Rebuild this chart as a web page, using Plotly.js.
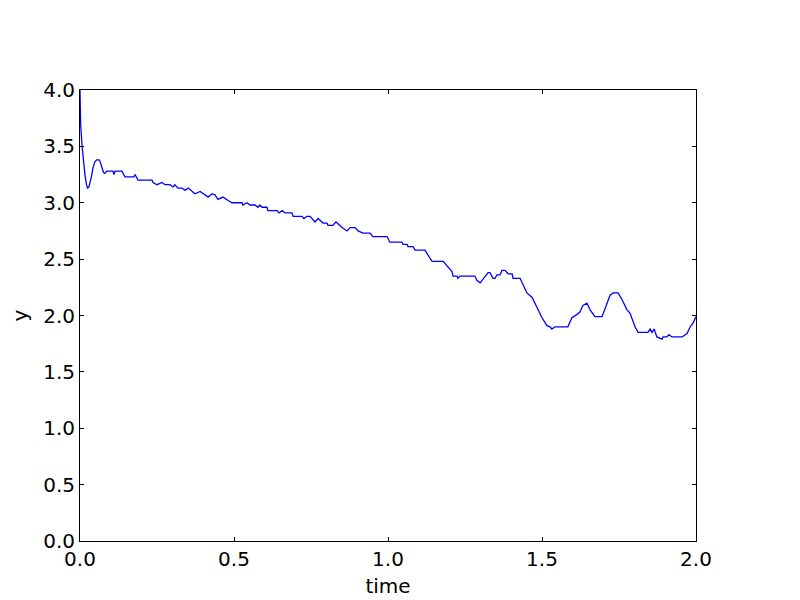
<!DOCTYPE html>
<html>
<head>
<meta charset="utf-8">
<script src="https://cdn.plot.ly/plotly-3.0.1.min.js"></script>
<style>html,body{margin:0;padding:0;background:#fff;}#chart{width:800px;height:600px;}</style>
</head>
<body>
<div id="chart"></div>
<script>
const time = [0, 0.002, 0.0065, 0.011, 0.016, 0.021, 0.025, 0.029, 0.032, 0.037, 0.042, 0.048, 0.054, 0.062, 0.066, 0.071, 0.076, 0.081, 0.087,
  0.107, 0.110, 0.114, 0.136, 0.146, 0.175, 0.179, 0.183, 0.188, 0.234, 0.237, 0.250, 0.266, 0.276, 0.292, 0.302, 0.308, 0.318, 0.331,
  0.341, 0.351, 0.360, 0.373, 0.390, 0.399, 0.416, 0.429, 0.438, 0.448, 0.464, 0.481, 0.494, 0.526, 0.529, 0.542, 0.552, 0.568,
  0.578, 0.584, 0.591, 0.607, 0.610, 0.640, 0.646, 0.656, 0.666, 0.688, 0.692, 0.721, 0.727, 0.737, 0.747, 0.763, 0.773, 0.789, 0.802,
  0.805, 0.821, 0.831, 0.851, 0.867, 0.877, 0.893, 0.903, 0.919, 0.942, 0.951, 0.997, 1.006, 1.045, 1.049, 1.062, 1.065, 1.081,
  1.088, 1.120, 1.136, 1.143, 1.179, 1.195, 1.208, 1.211, 1.224, 1.227, 1.234, 1.282, 1.289, 1.299, 1.315, 1.325, 1.331, 1.341, 1.347,
  1.354, 1.364, 1.370, 1.380, 1.390, 1.403, 1.406, 1.429, 1.451, 1.468, 1.484, 1.500, 1.516, 1.526, 1.532, 1.542, 1.584, 1.597, 1.614,
  1.623, 1.633, 1.646, 1.656, 1.672, 1.695, 1.721, 1.731, 1.747, 1.760, 1.776, 1.786, 1.802, 1.812, 1.844, 1.851, 1.857, 1.864, 1.873,
  1.890, 1.893, 1.906, 1.912, 1.922, 1.955, 1.971, 1.981, 1.990, 2.0];
const yValues = [4.0, 3.70, 3.51, 3.36, 3.25, 3.16, 3.13, 3.14, 3.17, 3.23, 3.31, 3.36, 3.38, 3.38, 3.36, 3.31, 3.27, 3.26, 3.28,
  3.28, 3.25, 3.28, 3.28, 3.23, 3.23, 3.25, 3.23, 3.20, 3.20, 3.18, 3.16, 3.18, 3.16, 3.16, 3.14, 3.16, 3.13, 3.13,
  3.11, 3.13, 3.11, 3.08, 3.10, 3.08, 3.05, 3.08, 3.07, 3.03, 3.05, 3.02, 3.00, 3.00, 2.98, 3.00, 2.98, 2.98,
  2.96, 2.98, 2.96, 2.96, 2.93, 2.93, 2.91, 2.93, 2.91, 2.91, 2.88, 2.88, 2.86, 2.88, 2.88, 2.83, 2.86, 2.82, 2.82,
  2.80, 2.80, 2.83, 2.78, 2.75, 2.78, 2.78, 2.75, 2.73, 2.73, 2.70, 2.70, 2.65, 2.65, 2.63, 2.63, 2.61, 2.61,
  2.58, 2.58, 2.51, 2.48, 2.48, 2.43, 2.39, 2.35, 2.35, 2.33, 2.35, 2.35, 2.31, 2.29, 2.35, 2.38, 2.38, 2.33, 2.33,
  2.36, 2.36, 2.40, 2.40, 2.37, 2.37, 2.33, 2.33, 2.20, 2.16, 2.07, 1.98, 1.91, 1.90, 1.88, 1.90, 1.90, 1.98, 2.01,
  2.03, 2.09, 2.11, 2.05, 1.99, 1.99, 2.18, 2.20, 2.20, 2.14, 2.05, 2.02, 1.90, 1.85, 1.85, 1.88, 1.85, 1.88, 1.81,
  1.79, 1.81, 1.81, 1.83, 1.81, 1.81, 1.84, 1.90, 1.93, 1.99];
const xTicks = [0, 0.5, 1.0, 1.5, 2.0];
const yTicks = [0, 0.5, 1.0, 1.5, 2.0, 2.5, 3.0, 3.5, 4.0];

const textFont = {family: 'DejaVu Sans', size: 20, color: '#000'};
const axisCommon = {
  showgrid: false, zeroline: false, showline: true, linecolor: '#000', linewidth: 1,
  mirror: 'ticks', ticks: 'inside', ticklen: 4, tickcolor: '#000', tickwidth: 1,
  tickformat: '.1f', tickfont: textFont
};

Plotly.newPlot('chart', [{
  x: time, y: yValues, type: 'scatter', mode: 'lines',
  line: {color: '#0000ff', width: 1.3}
}], {
  width: 800, height: 600,
  margin: {l: 80, r: 104, t: 90, b: 59},
  paper_bgcolor: '#fff', plot_bgcolor: '#fff',
  showlegend: false,
  xaxis: Object.assign({}, axisCommon, {range: [0, 2], tickvals: xTicks,
    title: {text: 'time', font: textFont, standoff: 8}}),
  yaxis: Object.assign({}, axisCommon, {range: [0, 4], tickvals: yTicks,
    title: {text: 'y', font: textFont, standoff: 10}})
}, {displayModeBar: false, staticPlot: true});
</script>
</body>
</html>
